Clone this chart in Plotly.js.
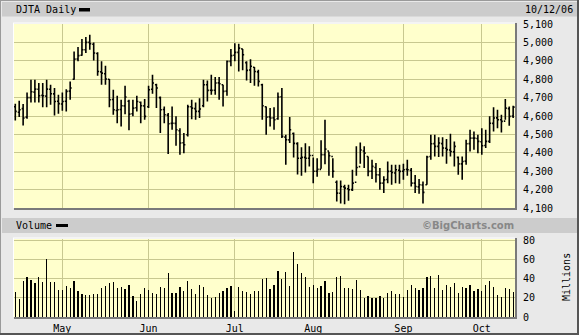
<!DOCTYPE html>
<html>
<head>
<meta charset="utf-8">
<script src="https://cdn.plot.ly/plotly-3.0.1.min.js"></script>
<style>
html,body{margin:0;padding:0;background:#e9e9e9;}
#chart{width:579px;height:335px;}
</style>
</head>
<body>
<div id="chart"></div>
<script>
// Trading dates (categories)
const dates = [
"2006-04-12","2006-04-13","2006-04-17","2006-04-18","2006-04-19","2006-04-20","2006-04-21","2006-04-24","2006-04-25","2006-04-26","2006-04-27","2006-04-28",
"2006-05-01","2006-05-02","2006-05-03","2006-05-04","2006-05-05","2006-05-08","2006-05-09","2006-05-10","2006-05-11","2006-05-12","2006-05-15","2006-05-16","2006-05-17","2006-05-18","2006-05-19","2006-05-22","2006-05-23","2006-05-24","2006-05-25","2006-05-26","2006-05-30","2006-05-31",
"2006-06-01","2006-06-02","2006-06-05","2006-06-06","2006-06-07","2006-06-08","2006-06-09","2006-06-12","2006-06-13","2006-06-14","2006-06-15","2006-06-16","2006-06-19","2006-06-20","2006-06-21","2006-06-22","2006-06-23","2006-06-26","2006-06-27","2006-06-28","2006-06-29","2006-06-30",
"2006-07-03","2006-07-05","2006-07-06","2006-07-07","2006-07-10","2006-07-11","2006-07-12","2006-07-13","2006-07-14","2006-07-17","2006-07-18","2006-07-19","2006-07-20","2006-07-21","2006-07-24","2006-07-25","2006-07-26","2006-07-27","2006-07-28","2006-07-31",
"2006-08-01","2006-08-02","2006-08-03","2006-08-04","2006-08-07","2006-08-08","2006-08-09","2006-08-10","2006-08-11","2006-08-14","2006-08-15","2006-08-16","2006-08-17","2006-08-18","2006-08-21","2006-08-22","2006-08-23","2006-08-24","2006-08-25","2006-08-28","2006-08-29","2006-08-30","2006-08-31",
"2006-09-01","2006-09-05","2006-09-06","2006-09-07","2006-09-08","2006-09-11","2006-09-12","2006-09-13","2006-09-14","2006-09-15","2006-09-18","2006-09-19","2006-09-20","2006-09-21","2006-09-22","2006-09-25","2006-09-26","2006-09-27","2006-09-28","2006-09-29",
"2006-10-02","2006-10-03","2006-10-04","2006-10-05","2006-10-06","2006-10-09","2006-10-10","2006-10-11","2006-10-12"
];

const openP = [
4650,4620,4640,4594,4700,4730,4745,4712,4708,4745,4720,4680,
4665,4680,4735,4800,4910,4930,4960,5000,4990,4940,4840,4830,4800,4690,4630,4635,4655,4680,4612,4645,4675,4655,
4650,4745,4770,4700,4635,4605,4560,4560,4520,4455,4498,4650,4640,4625,4656,4770,4740,4740,4780,4770,4735,4897,
4930,4946,4965,4890,4850,4865,4840,4770,4650,4595,4590,4585,4705,4485,4470,4505,4450,4370,4375,4370,
4385,4300,4310,4390,4410,4380,4240,4180,4215,4205,4200,4240,4325,4410,4380,4300,4320,4280,4235,4255,4300,4290,4305,
4300,4310,4305,4235,4215,4225,4226,4380,4450,4435,4450,4425,4415,4405,4375,4340,4355,4450,4480,4478,
4460,4440,4462,4560,4590,4580,4572,4640,4600
];
const highP = [
4667,4683,4665,4728,4797,4797,4779,4779,4797,4770,4752,4716,
4728,4746,4788,4951,4975,5018,5029,5042,5000,4946,4897,4873,4801,4743,4710,4688,4764,4688,4688,4710,4679,4692,
4764,4824,4775,4706,4652,4616,4652,4598,4534,4507,4661,4688,4674,4697,4797,4793,4824,4812,4812,4770,4902,4964,
4996,4993,4964,4897,4909,4866,4851,4775,4652,4643,4648,4728,4752,4498,4594,4511,4458,4430,4452,4435,
4375,4370,4468,4580,4406,4370,4250,4250,4226,4226,4308,4436,4456,4435,4380,4362,4344,4317,4272,4353,4335,4335,4335,
4340,4362,4317,4280,4257,4244,4384,4498,4498,4485,4485,4475,4504,4462,4380,4380,4471,4525,4516,4498,
4534,4525,4598,4648,4634,4607,4692,4652,4656
];
const lowP = [
4576,4594,4549,4585,4674,4674,4674,4648,4648,4661,4603,4612,
4629,4625,4688,4797,4897,4928,4942,4960,4902,4819,4770,4770,4648,4607,4561,4543,4610,4522,4598,4625,4561,4580,
4643,4721,4643,4507,4561,4393,4525,4438,4389,4398,4489,4583,4580,4589,4648,4679,4716,4716,4688,4652,4710,4870,
4897,4842,4848,4793,4779,4764,4761,4580,4498,4543,4525,4580,4480,4335,4453,4375,4282,4275,4293,4326,
4234,4270,4313,4338,4275,4265,4135,4125,4120,4140,4193,4275,4340,4317,4272,4257,4239,4199,4181,4235,4226,4235,4232,
4253,4275,4217,4181,4177,4125,4226,4362,4380,4377,4380,4340,4380,4326,4281,4253,4335,4407,4417,4398,
4389,4426,4453,4516,4534,4511,4580,4547,4589
];
const closeP = [
4625,4634,4589,4700,4732,4746,4710,4710,4746,4721,4679,4667,
4679,4734,4752,4909,4928,4960,5000,4993,4942,4842,4833,4801,4688,4634,4634,4656,4703,4610,4643,4679,4656,4598,
4743,4779,4752,4634,4607,4558,4561,4525,4453,4444,4650,4643,4625,4638,4770,4739,4739,4779,4775,4734,4897,4928,
4946,4969,4933,4848,4870,4842,4788,4656,4594,4589,4580,4703,4489,4471,4525,4451,4370,4375,4370,4385,
4300,4310,4390,4420,4384,4300,4181,4217,4208,4199,4235,4320,4415,4398,4299,4326,4281,4235,4253,4299,4293,4308,4299,
4308,4308,4235,4217,4226,4185,4377,4449,4435,4453,4426,4417,4407,4435,4340,4353,4449,4480,4480,4462,
4438,4462,4561,4589,4580,4571,4643,4598,4648
];
// Volume, millions
const volume = [
26,19,37.5,42,38.6,35.4,42,36.5,60.7,36.5,36.5,28,
28,33,30,37.5,27,24,23,23,24,24,30,33,35.4,36.5,30,32,29,34,22,16.5,24,30,
28,25,24,32,31,46,25,25,32,27,37.5,29,24,34,32,23,20,20.7,25,27,31,33,
6,32,27,26,24,27,27,39.6,40.7,29,34,48,39.6,47,33,68,55.4,46,42,32,
34,31,33,37.5,25,26,42,43,31,31,29,38.6,28,19.6,22,19.6,19.6,22,19.6,25,27,24,24,
20.7,28,34,31,28,30,42,43,31,44,28,34,32,35.4,25,32,30,34,27,29,
27,34,37.5,32,23,20.7,31,29,26
];

const monthTickVals = ["2006-05-01","2006-06-01","2006-07-03","2006-08-01","2006-09-01","2006-10-02"];
const monthTickText = ["May","Jun","Jul","Aug","Sep","Oct"];
const priceTicks = [4100,4200,4300,4400,4500,4600,4700,4800,4900,5000,5100];
const priceTickText = ["4,100","4,200","4,300","4,400","4,500","4,600","4,700","4,800","4,900","5,000","5,100"];
const volTicks = [0,20,40,60,80];

const W = 579, H = 335;
const X = p => p / W;
const Y = p => 1 - p / H;

const FONT = "DejaVu Sans Mono, monospace";
const GRID = "#c8c890";

const traces = [
  {
    type: "ohlc", x: dates, open: openP, high: highP, low: lowP, close: closeP,
    xaxis: "x", yaxis: "y",
    increasing: {line: {color: "#000000", width: 1.6}},
    decreasing: {line: {color: "#000000", width: 1.6}},
    tickwidth: 0.38, hoverinfo: "skip", showlegend: false
  },
  {
    type: "bar", x: dates, y: volume, xaxis: "x", yaxis: "y2",
    marker: {color: "#000000", line: {width: 0}}, width: 0.32,
    hoverinfo: "skip", showlegend: false
  }
];

function rect(x0, y0, x1, y1, fill) {
  return {type: "rect", xref: "paper", yref: "paper", x0: X(x0), x1: X(x1), y0: Y(y1), y1: Y(y0),
          fillcolor: fill, line: {width: 0}, layer: "below"};
}
function hline(x0, x1, y, color, w) {
  return {type: "line", xref: "paper", yref: "paper", x0: X(x0), x1: X(x1), y0: Y(y), y1: Y(y),
          line: {color: color, width: w || 1}, layer: "above"};
}
function vline(x, y0, y1, color, w) {
  return {type: "line", xref: "paper", yref: "paper", x0: X(x), x1: X(x), y0: Y(y0), y1: Y(y1),
          line: {color: color, width: w || 1}, layer: "above"};
}

const shapes = [
  rect(2, 2, 577, 16.5, "#cccccc"),
  rect(2, 218, 577, 233, "#cccccc"),
  // legend swatches
  {type: "rect", xref: "paper", yref: "paper", x0: X(79), x1: X(90), y0: Y(11.5), y1: Y(8), fillcolor: "#000", line: {width: 0}},
  {type: "rect", xref: "paper", yref: "paper", x0: X(56), x1: X(68), y0: Y(227), y1: Y(224), fillcolor: "#000", line: {width: 0}},
  // plot frame highlights / shadows
  hline(13, 515, 23, "#ffffff", 1),
  vline(13.5, 23, 208, "#ffffff", 1),
  hline(14, 517, 209, "#7a7a7a", 2),
  vline(516, 23, 210, "#7a7a7a", 2),
  hline(13, 515, 238, "#ffffff", 1),
  vline(13.5, 238, 317, "#ffffff", 1),
  hline(14, 517, 318, "#7a7a7a", 2),
  vline(516, 238, 319, "#7a7a7a", 2),
  // outer frame
  hline(0, 579, 0.5, "#9a9a9a", 1),
  vline(0.5, 0, 335, "#9a9a9a", 1),
  vline(578, 0, 335, "#555555", 2),
  hline(0, 579, 334, "#555555", 2)
];

const annotations = [
  {text: "DJTA Daily", xref: "paper", yref: "paper", x: X(14), y: Y(9.5), xanchor: "left", yanchor: "middle",
   showarrow: false, font: {family: FONT, size: 10, color: "#000"}},
  {text: "10/12/06", xref: "paper", yref: "paper", x: X(523), y: Y(9.5), xanchor: "left", yanchor: "middle",
   showarrow: false, font: {family: FONT, size: 10, color: "#000"}},
  {text: "Volume", xref: "paper", yref: "paper", x: X(14), y: Y(225.5), xanchor: "left", yanchor: "middle",
   showarrow: false, font: {family: FONT, size: 10, color: "#000"}},
  {text: "©BigCharts.com", xref: "paper", yref: "paper", x: X(516), y: Y(225.5), xanchor: "right", yanchor: "middle",
   showarrow: false, font: {family: "DejaVu Sans, Verdana, sans-serif", size: 10, color: "#888888", weight: "bold"}},
  {text: "Millions", xref: "paper", yref: "paper", x: X(566), y: Y(277), xanchor: "center", yanchor: "middle",
   textangle: -90, showarrow: false, font: {family: FONT, size: 10, color: "#000"}}
];

const layout = {
  width: W, height: H,
  margin: {l: 0, r: 0, t: 0, b: 0, pad: 0},
  paper_bgcolor: "#e9e9e9",
  plot_bgcolor: "#ffffcc",
  showlegend: false,
  font: {family: FONT, size: 10, color: "#000"},
  xaxis: {
    type: "category", domain: [X(14), X(515)], anchor: "y2",
    range: [-0.33, 127.47],
    tickmode: "array", tickvals: monthTickVals, ticktext: monthTickText,
    showgrid: true, gridcolor: GRID, gridwidth: 1,
    ticks: "outside", ticklen: 2, tickcolor: "rgba(0,0,0,0)",
    showline: false, zeroline: false, rangeslider: {visible: false},
    tickfont: {family: FONT, size: 10, color: "#000"}, fixedrange: true
  },
  yaxis: {
    domain: [Y(208), Y(24)], anchor: "x", side: "right",
    range: [4100, 5100],
    tickmode: "array", tickvals: priceTicks, ticktext: priceTickText,
    showgrid: true, gridcolor: GRID, gridwidth: 1,
    ticks: "outside", ticklen: 5, tickcolor: "rgba(0,0,0,0)",
    showline: false, zeroline: false,
    tickfont: {family: FONT, size: 10, color: "#000"}, fixedrange: true
  },
  yaxis2: {
    domain: [Y(317), Y(239)], anchor: "x", side: "right",
    range: [0, 82],
    tickmode: "array", tickvals: volTicks,
    showgrid: true, gridcolor: GRID, gridwidth: 1,
    ticks: "outside", ticklen: 5, tickcolor: "rgba(0,0,0,0)",
    showline: false, zeroline: false,
    tickfont: {family: FONT, size: 10, color: "#000"}, fixedrange: true
  },
  shapes: shapes,
  annotations: annotations,
  bargap: 0
};

Plotly.newPlot("chart", traces, layout, {staticPlot: true, displayModeBar: false});
</script>
</body>
</html>
